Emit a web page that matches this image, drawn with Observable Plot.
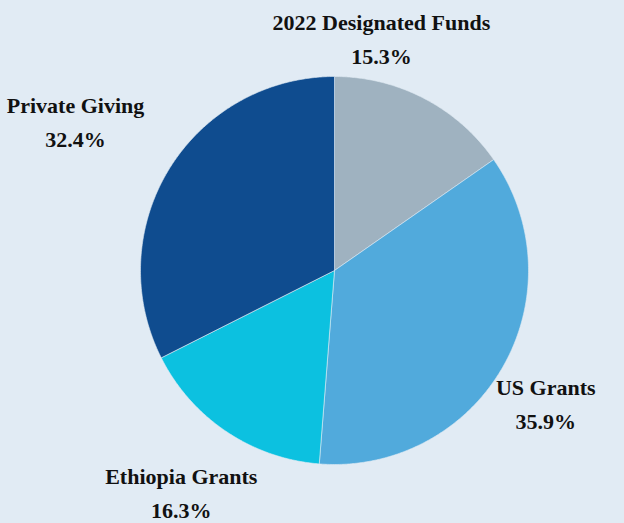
<!DOCTYPE html>
<html>
<head>
<meta charset="utf-8">
<script src="https://cdn.jsdelivr.net/npm/d3@7"></script>
<script src="https://cdn.jsdelivr.net/npm/@observablehq/plot@0.6"></script>
<style>
  html, body { margin: 0; padding: 0; background: #e1ebf4; }
  #chart { width: 624px; height: 523px; }
</style>
</head>
<body>
<div id="chart"></div>
<script>
const categories = ["2022 Designated Funds", "US Grants", "Ethiopia Grants", "Private Giving"];
const shares = [15.3, 35.9, 16.3, 32.4];
const colors = ["#9fb2c0", "#51aadc", "#0cc1e0", "#0f4c8f"];

const W = 624, H = 523;
const cx = 334, cy = 270, R = 194;

// label nudges (pixels) relative to the slice's mid-angle anchor
const labelNudge = [[-77, 3], [-21, -3], [-4, -3], [-31, -11]];

const pie = d3.pie().sort(null).value(d => d.value);
const arcs = pie(categories.map((c, i) => ({name: c, value: shares[i], color: colors[i]})));

function slicePoints(a) {
  const pts = [{x: 0, y: 0}];
  const n = Math.max(2, Math.ceil((a.endAngle - a.startAngle) / (Math.PI / 360)));
  for (let k = 0; k <= n; k++) {
    const t = a.startAngle + (a.endAngle - a.startAngle) * k / n;
    pts.push({x: Math.sin(t), y: Math.cos(t)});
  }
  pts.push({x: 0, y: 0});
  return pts;
}

const labelR = 1.38;

const marks = arcs.map(a =>
  Plot.line(slicePoints(a), {x: "x", y: "y", fill: a.data.color, stroke: "#e1ebf4", strokeWidth: 0.6, curve: "linear"})
);
arcs.forEach((a, i) => {
  const m = (a.startAngle + a.endAngle) / 2;
  marks.push(
    Plot.text([{x: labelR * Math.sin(m), y: labelR * Math.cos(m), text: `${a.data.name}\n${a.data.value.toFixed(1)}%`}], {
      x: "x", y: "y", text: "text",
      dx: labelNudge[i][0], dy: labelNudge[i][1],
      fontSize: 22, fontWeight: "bold", fill: "#111",
      fontFamily: "Liberation Serif, DejaVu Serif, serif",
      lineHeight: 1.55, textAnchor: "middle"
    })
  );
});

const chart = Plot.plot({
  width: W, height: H,
  margin: 0,
  x: {domain: [-cx / R, (W - cx) / R], range: [0, W], axis: null},
  y: {domain: [-(H - cy) / R, cy / R], range: [H, 0], axis: null},
  style: {background: "#e1ebf4", overflow: "visible"},
  marks
});
document.getElementById("chart").appendChild(chart);
</script>
</body>
</html>
